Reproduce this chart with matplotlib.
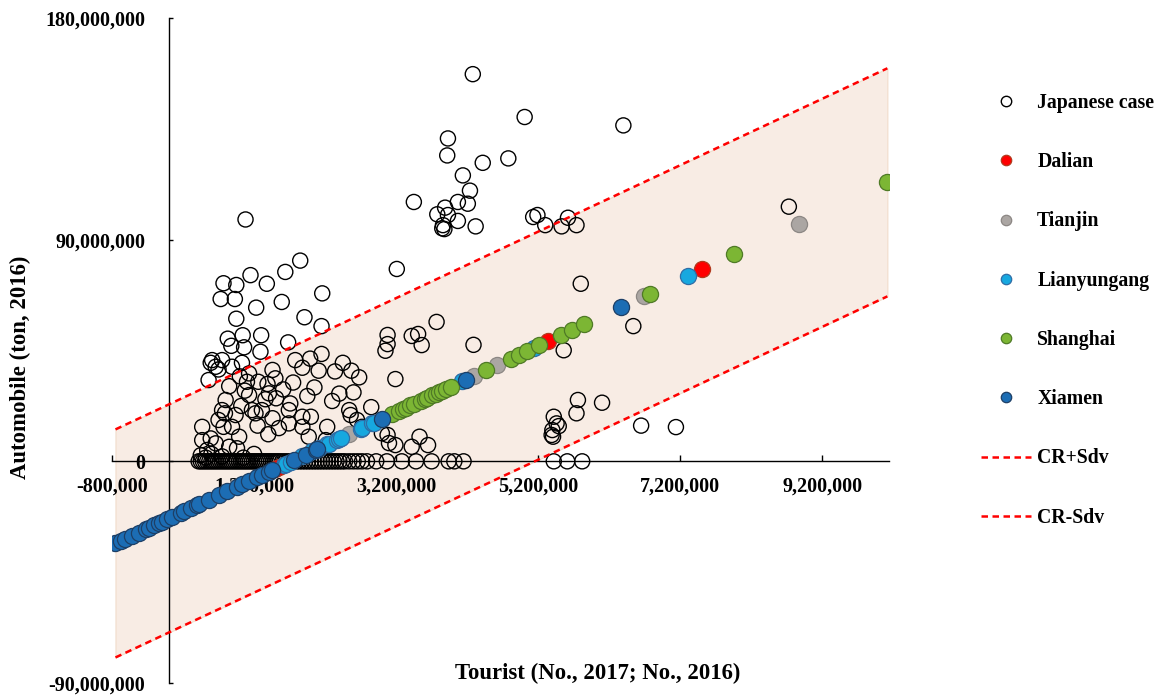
import numpy as np
import matplotlib
matplotlib.use("Agg")
import matplotlib.pyplot as plt
from matplotlib.lines import Line2D
from matplotlib.ticker import FuncFormatter

plt.rcParams['font.family'] = ['Liberation Serif', 'DejaVu Serif']
plt.rcParams['font.weight'] = 'bold'

# ---------------- data (millions) ----------------
# Japanese case: tourists (M), automobile (M ton)
jp_x = [4.28, 5.01, 6.40, 3.93, 3.92, 4.42, 4.78, 4.14, 4.24, 3.45, 4.07, 4.21, 3.89, 3.78, 3.93,
        4.07, 4.32, 3.86, 3.85, 3.88, 5.13, 5.19, 5.30, 5.62, 5.53, 5.74, 8.73, 5.80, 6.54, 5.56,
        6.10, 5.76, 5.74, 5.42, 5.46, 5.49, 5.40, 5.39, 5.41, 6.65, 7.14,
        1.08, 1.85, 1.64, 1.15, 0.77, 0.95, 1.38, 2.16, 0.73, 0.93, 1.59, 1.23, 3.21, 0.95, 1.91,
        2.15, 0.83, 1.04, 1.30, 0.88, 1.06, 1.29, 1.68, 0.61, 0.59, 0.66, 0.70, 0.56, 0.75, 0.89,
        1.03, 1.13, 1.46, 1.78, 1.99, 2.15, 1.88, 2.11, 2.34, 2.45, 2.57, 2.68, 3.19, 3.08, 3.08,
        3.05, 3.42, 3.51, 3.56, 3.77, 4.29,
        1.50, 1.39, 1.26, 1.10, 1.07, 1.13, 1.41, 1.61, 1.51, 1.36, 1.71, 0.80, 0.75, 0.79, 0.94,
        1.17, 1.22, 1.31, 1.46, 0.70, 0.77, 0.89, 0.99, 0.47, 0.47, 0.59, 0.66, 0.54, 0.85, 0.96,
        1.88, 1.69, 1.69, 2.00, 1.88, 1.97, 2.23, 2.54, 2.56, 2.65, 2.72, 3.08, 3.19, 3.42, 3.53,
        3.65, 2.21, 3.00, 3.10, 0.45, 0.52, 0.60, 0.75, 1.05, 1.20, 1.02, 1.25, 1.40, 1.55, 0.85,
        1.00, 1.75, 1.95, 2.05, 2.30, 2.40, 2.60, 2.85,
        0.42, 0.45, 0.48, 0.51, 0.54, 0.57, 0.60, 0.63, 0.66, 0.69, 0.72, 0.75, 0.78, 0.81, 0.84,
        0.87, 0.90, 0.93, 0.96, 0.99, 1.02, 1.05, 1.08, 1.11, 1.14, 1.17, 1.20, 1.23, 1.26, 1.29,
        1.32, 1.35, 1.38, 1.41, 1.44, 1.47, 1.50, 1.53, 1.56, 1.60, 1.64, 1.68, 1.72, 1.76, 1.80,
        1.84, 1.88, 1.92, 1.96, 2.00, 2.04, 2.08, 2.12, 2.16, 2.20, 2.24, 2.28, 2.32, 2.36, 2.40,
        2.44, 2.48, 2.54, 2.60, 2.66, 2.72, 2.79, 2.92, 3.07, 3.28, 3.48, 3.70, 3.94, 4.02, 4.15,
        5.42, 5.61, 5.82]
jp_y = [157.2, 139.8, 136.4, 131.1, 124.2, 121.2, 123.0, 116.1, 109.9, 105.3, 105.3, 104.6, 103.0,
        100.3, 100.0, 97.6, 95.4, 95.9, 94.6, 94.3, 99.2, 100.0, 95.9, 98.9, 95.4, 95.9, 103.4, 72.1,
        54.9, 45.1, 23.8, 24.9, 19.5, 18.1, 15.4, 14.3, 12.7, 10.7, 10.0, 14.5, 13.9,
        98.2, 81.5, 76.9, 75.6, 72.3, 71.6, 72.1, 68.2, 65.9, 65.9, 64.7, 62.4, 78.1, 57.9, 58.5,
        54.9, 49.8, 51.2, 51.2, 46.9, 46.3, 44.5, 48.3, 41.1, 40.0, 38.4, 37.3, 33.0, 41.1, 38.4,
        40.0, 35.7, 37.1, 41.1, 41.7, 43.6, 38.0, 36.8, 36.5, 40.0, 36.8, 34.1, 33.4, 51.3, 47.6,
        44.9, 50.9, 51.7, 47.2, 56.6, 47.3,
        33.7, 31.4, 32.3, 32.3, 28.7, 26.9, 27.6, 29.2, 25.6, 25.2, 23.5, 24.9, 20.8, 19.5, 18.8,
        20.8, 19.5, 20.8, 17.5, 16.8, 14.0, 14.0, 10.0, 14.0, 8.6, 9.3, 7.3, 4.6, 5.9, 5.3,
        18.1, 20.8, 15.4, 18.1, 14.0, 10.0, 14.0, 20.8, 18.8, 16.8, 14.0, 10.7, 6.6, 5.9, 10.0,
        6.6, 8.6, 11.4, 7.4, 2.5, 1.5, 3.0, 2.0, 1.5, 3.0, 22.5, 14.5, 11.0, 13.5, 30.5,
        34.5, 32.0, 26.5, 30.0, 24.5, 27.5, 28.0, 22.0,
        0, 0, 0, 0, 0, 0, 0, 0, 0, 0, 0, 0, 0, 0, 0,
        0, 0, 0, 0, 0, 0, 0, 0, 0, 0, 0, 0, 0, 0, 0,
        0, 0, 0, 0, 0, 0, 0, 0, 0, 0, 0, 0, 0, 0, 0,
        0, 0, 0, 0, 0, 0, 0, 0, 0, 0, 0, 0, 0, 0, 0,
        0, 0, 0, 0, 0, 0, 0, 0, 0, 0, 0, 0, 0, 0, 0,
        0, 0, 0]

dalian_x = [1.50, 1.549, 5.342, 7.503]
dalian_y = [-2.96, -2.30, 48.86, 78.02]

tianjin_x = [2.535, 4.296, 4.624, 6.694, 8.873]
tianjin_y = [11.00, 34.75, 39.18, 67.10, 96.50]

lyg_x = [1.620, 1.644, 1.714, 1.877, 2.018, 2.113, 2.230, 2.254, 2.370, 2.394, 2.418, 2.700,
         2.723, 2.863, 2.887, 4.131, 5.141, 7.310]
lyg_y = [-1.35, -1.02, -0.08, 2.12, 4.02, 5.30, 6.88, 7.21, 8.77, 9.10, 9.42, 13.22,
         13.53, 15.42, 15.75, 32.53, 46.15, 75.41]

sh_x = [3.141, 3.239, 3.30, 3.334, 3.40, 3.451, 3.545, 3.60, 3.638, 3.708, 3.756, 3.80, 3.841,
        3.90, 3.968, 4.461, 4.813, 4.930, 5.046, 5.211, 5.517, 5.680, 5.845, 6.770, 7.953, 10.117]
sh_y = [19.17, 20.49, 21.32, 21.78, 22.67, 23.35, 24.62, 25.36, 25.88, 26.82, 27.47, 28.06, 28.62,
        29.41, 30.33, 36.98, 41.73, 43.31, 44.87, 47.10, 51.22, 53.42, 55.65, 68.13, 84.09, 113.28]

xm_x = [-0.751, -0.680, -0.610, -0.517, -0.423, -0.328, -0.282, -0.211, -0.141, -0.094, -0.024,
        0.046, 0.165, 0.211, 0.306, 0.399, 0.423, 0.563, 0.704, 0.821, 0.962, 1.032, 1.127, 1.244,
        1.314, 1.408, 1.455, 1.761, 1.925, 2.066, 2.089, 3.004, 4.179, 6.366]
xm_y = [-33.33, -32.37, -31.43, -30.17, -28.91, -27.62, -27.00, -26.05, -25.10, -24.47, -23.52,
        -22.58, -20.97, -20.35, -19.07, -17.82, -17.49, -15.61, -13.70, -12.13, -10.22, -9.28,
        -8.00, -6.42, -5.47, -4.21, -3.57, 0.56, 2.77, 4.67, 4.98, 17.32, 33.18, 62.68]

band_x = [-0.751, 10.117]
band_upper = [12.97, 159.58]
band_lower = [-79.63, 66.98]

x_ticks = [-0.8, 1.2, 3.2, 5.2, 7.2, 9.2]
y_ticks = [-90, 0, 90, 180]

series = [
    ("Dalian", dalian_x, dalian_y, "#FF0000", "#B23A1E"),
    ("Tianjin", tianjin_x, tianjin_y, "#ABA6A3", "#8C8784"),
    ("Lianyungang", lyg_x, lyg_y, "#17A8DF", "#2F6DA6"),
    ("Shanghai", sh_x, sh_y, "#7CB634", "#4F7A26"),
    ("Xiamen", xm_x, xm_y, "#1C6DB4", "#1D3F66"),
]

M = 1e6
fig = plt.figure(figsize=(11.63, 6.95), dpi=100)
ax = fig.add_axes([112 / 1163, 1 - 683 / 695, 777 / 1163, 665 / 695])

bx = np.array(band_x) * M
ax.fill_between(bx, np.array(band_lower) * M, np.array(band_upper) * M,
                facecolor="#F8ECE4", edgecolor="#F1DCCB", linewidth=0.8, zorder=0)
ax.plot(bx, np.array(band_upper) * M, color="#FF0000", lw=1.8, dashes=(2.6, 1.8), zorder=5)
ax.plot(bx, np.array(band_lower) * M, color="#FF0000", lw=1.8, dashes=(2.6, 1.8), zorder=5)

ax.scatter(np.array(jp_x) * M, np.array(jp_y) * M, s=118, facecolors="none",
           edgecolors="black", linewidths=1.0, zorder=3)
for i, (name, xs, ys, fc, ec) in enumerate(series):
    ax.scatter(np.array(xs) * M, np.array(ys) * M, s=135, facecolors=fc, edgecolors=ec,
               linewidths=0.9, zorder=6 + i)

ax.set_xlim(-0.8 * M, 10.14 * M)
ax.set_ylim(-90 * M, 180 * M)
ax.spines['left'].set_position(('data', 0))
ax.spines['bottom'].set_position(('data', 0))
ax.spines['top'].set_visible(False)
ax.spines['right'].set_visible(False)
for s in ('left', 'bottom'):
    ax.spines[s].set_linewidth(1.0)
    ax.spines[s].set_zorder(4)
ax.patch.set_alpha(0)

ax.set_xticks(np.array(x_ticks) * M)
ax.set_yticks(np.array(y_ticks) * M)
fmt = FuncFormatter(lambda v, p: f"{v:,.0f}")
ax.xaxis.set_major_formatter(fmt)
ax.yaxis.set_major_formatter(fmt)
ax.tick_params(axis='x', direction='in', length=4, width=1.0, pad=11, labelsize=14.5)
ax.tick_params(axis='y', direction='in', length=3, width=1.0, pad=17, labelsize=14.5)
for lab in ax.get_xticklabels() + ax.get_yticklabels():
    lab.set_fontweight('bold')

fig.text(20 / 1163, 1 - 367 / 695, "Automobile (ton, 2016)", rotation=90,
         ha='center', va='center', fontsize=16.4, fontweight='bold')
fig.text(598 / 1163, 1 - 673 / 695, "Tourist (No., 2017; No., 2016)",
         ha='center', va='center', fontsize=16.4, fontweight='bold')

handles = [Line2D([], [], ls='none', marker='o', markersize=7.5, markerfacecolor='white',
                  markeredgecolor='black', markeredgewidth=1.0)]
labels = ["Japanese case"]
for name, xs, ys, fc, ec in series:
    handles.append(Line2D([], [], ls='none', marker='o', markersize=7.5, markerfacecolor=fc,
                          markeredgecolor=ec, markeredgewidth=0.9))
    labels.append(name)
handles.append(Line2D([], [], color='#FF0000', lw=1.8, dashes=(2.6, 1.8)))
labels.append("CR+Sdv")
handles.append(Line2D([], [], color='#FF0000', lw=1.8, dashes=(2.6, 1.8)))
labels.append("CR-Sdv")
leg = ax.legend(handles, labels, loc='upper left', bbox_to_anchor=(981 / 1163, 1 - 93 / 695),
                bbox_transform=fig.transFigure, frameon=False, fontsize=14.2,
                labelspacing=1.99, handlelength=2.55, handletextpad=0.3,
                borderpad=0, borderaxespad=0)
for t in leg.get_texts():
    t.set_fontweight('bold')

fig.savefig("out.png", dpi=100)
